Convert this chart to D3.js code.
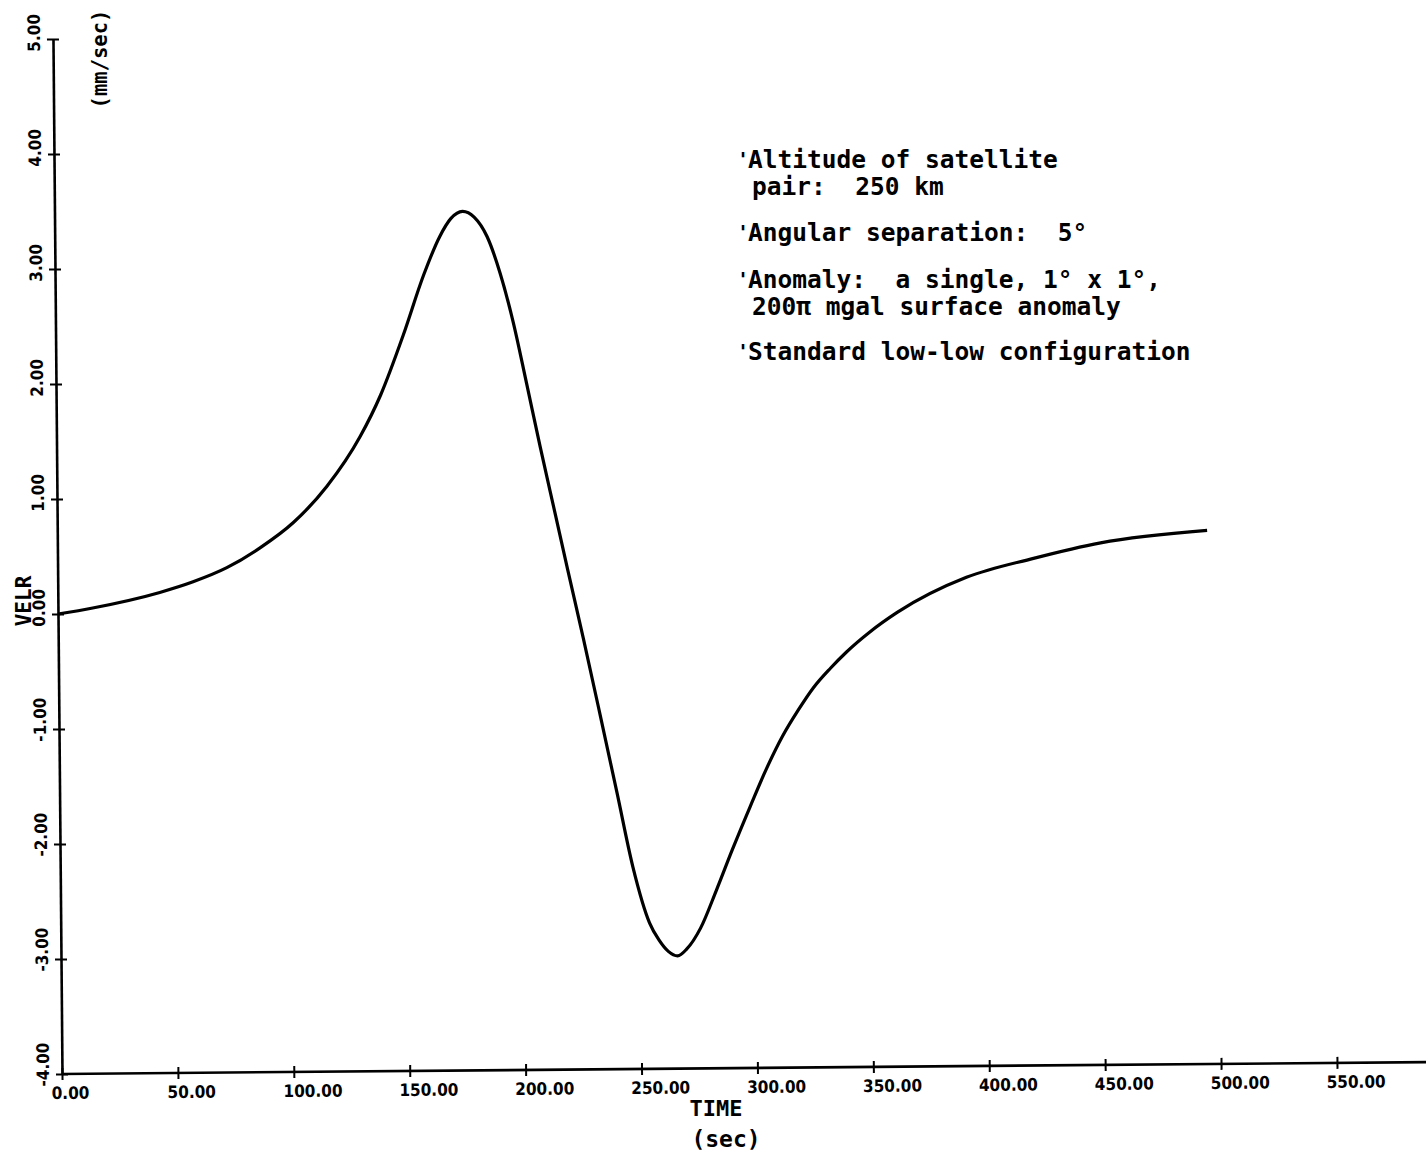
<!DOCTYPE html>
<html>
<head>
<meta charset="utf-8">
<script src="https://cdn.jsdelivr.net/npm/d3@7"></script>
<style>
  html, body { margin: 0; padding: 0; background: #fff; }
  svg { display: block; }
  .tick text { font-family: "DejaVu Sans Condensed", "DejaVu Sans", sans-serif; font-weight: bold; font-size: 17px; fill: #000; }
  .mono { font-family: "DejaVu Sans Mono", monospace; font-weight: bold; fill: #000; white-space: pre; }
</style>
</head>
<body>
<script>
// ---- data ----
const timeSec = [0, 15, 44, 58.4, 73, 87.4, 102, 116.5, 131, 140, 150, 159, 166, 171, 176, 181, 186.5, 192, 197.5, 203, 208.5, 215, 220, 226.5, 233.5, 240.5, 247, 254, 258, 262, 266, 270, 276, 283, 290, 298, 305, 312, 319, 325.5, 333, 340, 350, 362, 392, 421, 450, 496];
const velr    = [0, 0.05, 0.18, 0.27, 0.39, 0.56, 0.78, 1.09, 1.52, 1.88, 2.40, 2.92, 3.25, 3.41, 3.47, 3.42, 3.25, 2.93, 2.50, 1.97, 1.43, 0.82, 0.35, -0.25, -0.92, -1.60, -2.24, -2.73, -2.88, -2.98, -3.02, -2.96, -2.78, -2.45, -2.10, -1.72, -1.40, -1.12, -0.89, -0.70, -0.53, -0.39, -0.22, -0.05, 0.25, 0.41, 0.54, 0.64];
const xTickValues = [0, 50, 100, 150, 200, 250, 300, 350, 400, 450, 500, 550];
const xTickLabels = ["0.00", "50.00", "100.00", "150.00", "200.00", "250.00", "300.00", "350.00", "400.00", "450.00", "500.00", "550.00"];
const yTickValues = [-4, -3, -2, -1, 0, 1, 2, 3, 4, 5];
const yTickLabels = ["-4.00", "-3.00", "-2.00", "-1.00", "0.00", "1.00", "2.00", "3.00", "4.00", "5.00"];
const notes = [
  ["Altitude of satellite", "pair:  250 km"],
  ["Angular separation:  5°"],
  ["Anomaly:  a single, 1° x 1°,", "200π mgal surface anomaly"],
  ["Standard low-low configuration"]
];

// ---- layout ----
const W = 1426, H = 1155;
const svg = d3.select("body").append("svg").attr("width", W).attr("height", H);

const x = d3.scaleLinear().domain([0, 550]).range([0, 1275]);
const y = d3.scaleLinear().domain([-4, 5]).range([0, -1035]);

// slightly tilted like the scanned plot
const g = svg.append("g").attr("transform", "translate(62,1074) rotate(-0.5)");

// x axis
const xAxis = d3.axisBottom(x).tickValues(xTickValues)
  .tickFormat((d, i) => xTickLabels[i]).tickSizeInner(6).tickSizeOuter(0);
const gx = g.append("g").call(xAxis);
gx.select(".domain").remove();
gx.selectAll(".tick line").attr("y1", -6).attr("y2", 6).attr("stroke", "#000").attr("stroke-width", 2);
gx.selectAll(".tick text").attr("x", -11).attr("y", 25).attr("dy", null).attr("text-anchor", "start");
g.append("line").attr("x1", x(0)).attr("x2", x(590)).attr("y1", 0).attr("y2", 0)
  .attr("stroke", "#000").attr("stroke-width", 2.6);

// y axis
const yAxis = d3.axisLeft(y).tickValues(yTickValues)
  .tickFormat((d, i) => yTickLabels[i]).tickSizeInner(6).tickSizeOuter(0);
const gy = g.append("g").call(yAxis);
gy.select(".domain").attr("stroke", "#000").attr("stroke-width", 2.6);
gy.selectAll(".tick line").attr("x1", 6).attr("x2", -6).attr("stroke", "#000").attr("stroke-width", 2);
gy.selectAll(".tick text").attr("x", 0).attr("dy", null).attr("text-anchor", "start")
  .attr("transform", "translate(-13,12) rotate(-90)");

// curve
const line = d3.line().x(d => x(d[0])).y(d => y(d[1])).curve(d3.curveMonotoneX);
g.append("path").datum(timeSec.map((t, i) => [t, velr[i]]))
  .attr("d", line).attr("fill", "none").attr("stroke", "#000").attr("stroke-width", 3.2)
  .attr("stroke-linejoin", "round");

// axis titles
svg.append("text").attr("class", "mono").attr("x", 716).attr("y", 1116)
  .attr("text-anchor", "middle").attr("font-size", 22).text("TIME");
svg.append("text").attr("class", "mono").attr("x", 726).attr("y", 1147)
  .attr("text-anchor", "middle").attr("font-size", 23).text("(sec)");
svg.append("text").attr("class", "mono").attr("transform", "translate(31,601) rotate(-90)")
  .attr("text-anchor", "middle").attr("font-size", 21).text("VELR");
svg.append("text").attr("class", "mono").attr("transform", "translate(107,59) rotate(-90)")
  .attr("text-anchor", "middle").attr("font-size", 20.5).text("(mm/sec)");

// annotations
const baselines = [[168, 195], [241], [288, 315], [360]];
notes.forEach((block, bi) => {
  block.forEach((ln, li) => {
    const yy = baselines[bi][li];
    if (li === 0) {
      svg.append("text").attr("class", "mono").attr("x", 737).attr("y", yy - 2)
        .attr("font-size", 20).text("'");
    }
    svg.append("text").attr("class", "mono").attr("x", li === 0 ? 748 : 752).attr("y", yy)
      .attr("font-size", 24.5).text(ln);
  });
});
</script>
</body>
</html>
